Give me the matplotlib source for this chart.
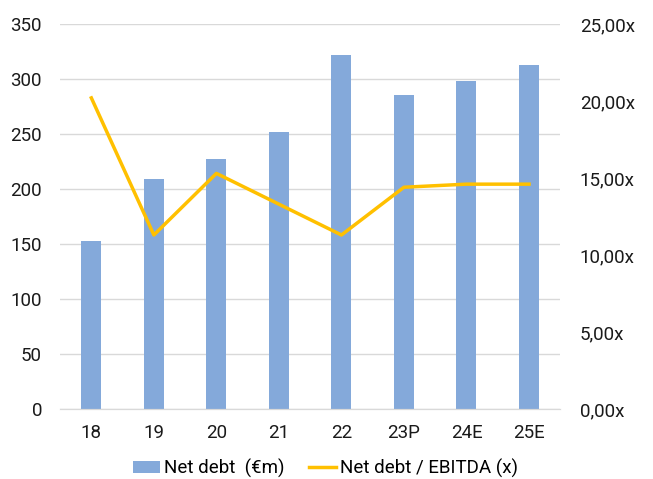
import matplotlib.pyplot as plt
from matplotlib.ticker import FuncFormatter

years = ["18", "19", "20", "21", "22", "23P", "24E", "25E"]
net_debt = [153, 209, 227, 252, 322, 285, 298, 313]
debt_ebitda = [20.2, 11.3, 15.3, 13.3, 11.3, 14.4, 14.6, 14.6]

plt.rcParams['font.family'] = ['Roboto', 'DejaVu Sans']


def main():
    fig = plt.figure(figsize=(6.53, 4.79), dpi=100)
    ax = fig.add_axes([0.092, 0.146, 0.766, 0.804])
    ax2 = ax.twinx()

    x = range(len(years))
    bars = ax.bar(x, net_debt, 0.32, color='#84A9DA', zorder=2)
    line, = ax2.plot(x, debt_ebitda, color='#FFC000', linewidth=2.5, zorder=3)

    ax.set_ylim(0, 350)
    ax.set_yticks(range(0, 351, 50))
    ax2.set_ylim(0, 25)
    ax2.set_yticks(range(0, 26, 5))
    ax2.yaxis.set_major_formatter(FuncFormatter(lambda v, p: f"{v:.2f}".replace('.', ',') + "x"))
    ax.set_xlim(-0.5, len(years) - 0.5)
    ax.set_xticks(list(x))
    ax.set_xticklabels(years)

    ax.grid(axis='y', color='#D9D9D9', linewidth=1, zorder=0)
    ax.set_axisbelow(True)
    for a in (ax, ax2):
        for s in ('top', 'left', 'right'):
            a.spines[s].set_visible(False)
        a.spines['bottom'].set_color('#D9D9D9')
        a.tick_params(length=0, labelsize=13.5, colors='#1a1a1a')
    ax.tick_params(axis='x', pad=11)
    ax.tick_params(axis='y', pad=13)
    ax2.tick_params(axis='y', pad=14)

    fig.legend([bars, line], ['Net debt  (€m)', 'Net debt / EBITDA (x)'],
               loc='center', bbox_to_anchor=(0.4985, 1 - 468 / 479), ncol=2, frameon=False,
               fontsize=13.5, handlelength=1.45, handleheight=0.6, handletextpad=0.2,
               columnspacing=1.3, borderpad=0, borderaxespad=0)

    fig.savefig("out.png", dpi=100)


if __name__ == "__main__":
    main()
